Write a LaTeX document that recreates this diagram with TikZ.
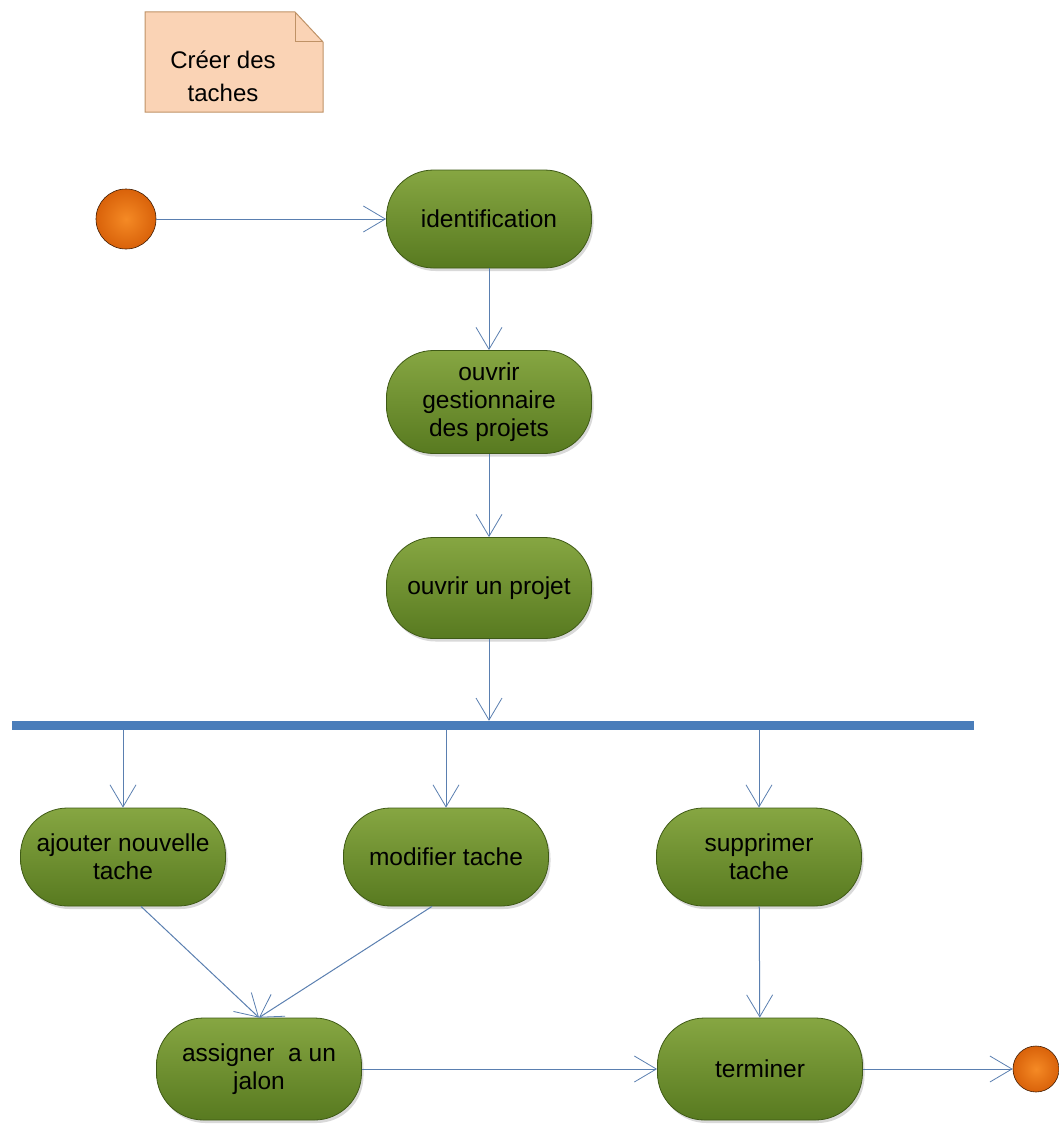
\documentclass[tikz,border=0pt]{standalone}
\usepackage{fontspec}
\setmainfont{Liberation Sans}
\usetikzlibrary{arrows.meta,shadows,calc}

\definecolor{actTop}{HTML}{86A642}
\definecolor{actBot}{HTML}{587A20}
\definecolor{actEdge}{HTML}{3F5A16}
\definecolor{flowBlue}{HTML}{5A7FB0}
\definecolor{barBlue}{HTML}{4A7DBA}
\definecolor{noteFill}{HTML}{FAD3B5}
\definecolor{noteEdge}{HTML}{BF9266}
\definecolor{dotOuter}{HTML}{D9620A}
\definecolor{dotInner}{HTML}{F58A25}

\tikzset{
  activity/.style={draw=actEdge, line width=0.8pt, top color=actTop, bottom color=actBot,
    minimum width=205pt, minimum height=98pt, rounded corners=47pt, align=center,
    inner sep=2pt, font=\fontsize{24.5}{28}\selectfont,
    drop shadow={shadow xshift=2pt, shadow yshift=-3pt, opacity=0.3}},
  dot/.style={circle, draw=black!70!dotOuter, line width=0.6pt, inner color=dotInner,
    outer color=dotOuter, inner sep=0pt},
  flow/.style={draw=flowBlue, line width=1pt,
    -{Straight Barb[length=22pt,width=26pt,line width=0.8pt]}},
}

\begin{document}
\begin{tikzpicture}[x=1pt,y=-1pt]
  \useasboundingbox (0,0) rectangle (1058,1124);

  % note
  \draw[fill=noteFill, draw=noteEdge, line width=1pt]
    (145,12) -- (295,12) -- (323,42) -- (323,112) -- (145,112) -- cycle;
  \draw[draw=noteEdge, line width=1pt] (295,12) -- (295,42) -- (323,42);
  \node[align=center, font=\fontsize{24}{33}\selectfont] (noteText) at (223,76)
    {Créer des\\taches};

  % start / end
  \node[dot, minimum size=60pt] (start) at (126,219) {};
  \node[dot, minimum size=46pt] (stop) at (1036,1069) {};

  % activities
  \node[activity] (ident) at (489,219) {identification};
  \node[activity, minimum height=103pt] (gest) at (489,402) {ouvrir\\gestionnaire\\des projets};
  \node[activity, minimum height=101pt] (proj) at (489,588) {ouvrir un projet};

  % fork bar
  \node[fill=barBlue, minimum width=962pt, minimum height=9pt, inner sep=0pt] (bar) at (493,725.5) {};

  \node[activity] (ajout) at (123,857) {ajouter nouvelle\\tache};
  \node[activity] (modif) at (446,857) {modifier tache};
  \node[activity] (suppr) at (759,857) {supprimer\\tache};
  \node[activity, minimum height=102pt] (assign) at (259,1069) {assigner\ \ a un\\jalon};
  \node[activity, minimum height=102pt] (term) at (760,1069) {terminer};

  % flows
  \draw[flow] (start) -- (ident);
  \draw[flow] (ident) -- (gest);
  \draw[flow] (gest) -- (proj);
  \draw[flow] (proj) -- (proj |- bar.north);
  \draw[flow] (bar.south -| ajout) -- (ajout);
  \draw[flow] (bar.south -| modif) -- (modif);
  \draw[flow] (bar.south -| suppr) -- (suppr);
  \draw[flow] ([xshift=18pt]ajout.south) -- (assign.north);
  \draw[flow] ([xshift=-14pt]modif.south) -- (assign.north);
  \draw[flow] (assign) -- (term);
  \draw[flow] (suppr) -- (term);
  \draw[flow] (term) -- (stop);
\end{tikzpicture}
\end{document}
